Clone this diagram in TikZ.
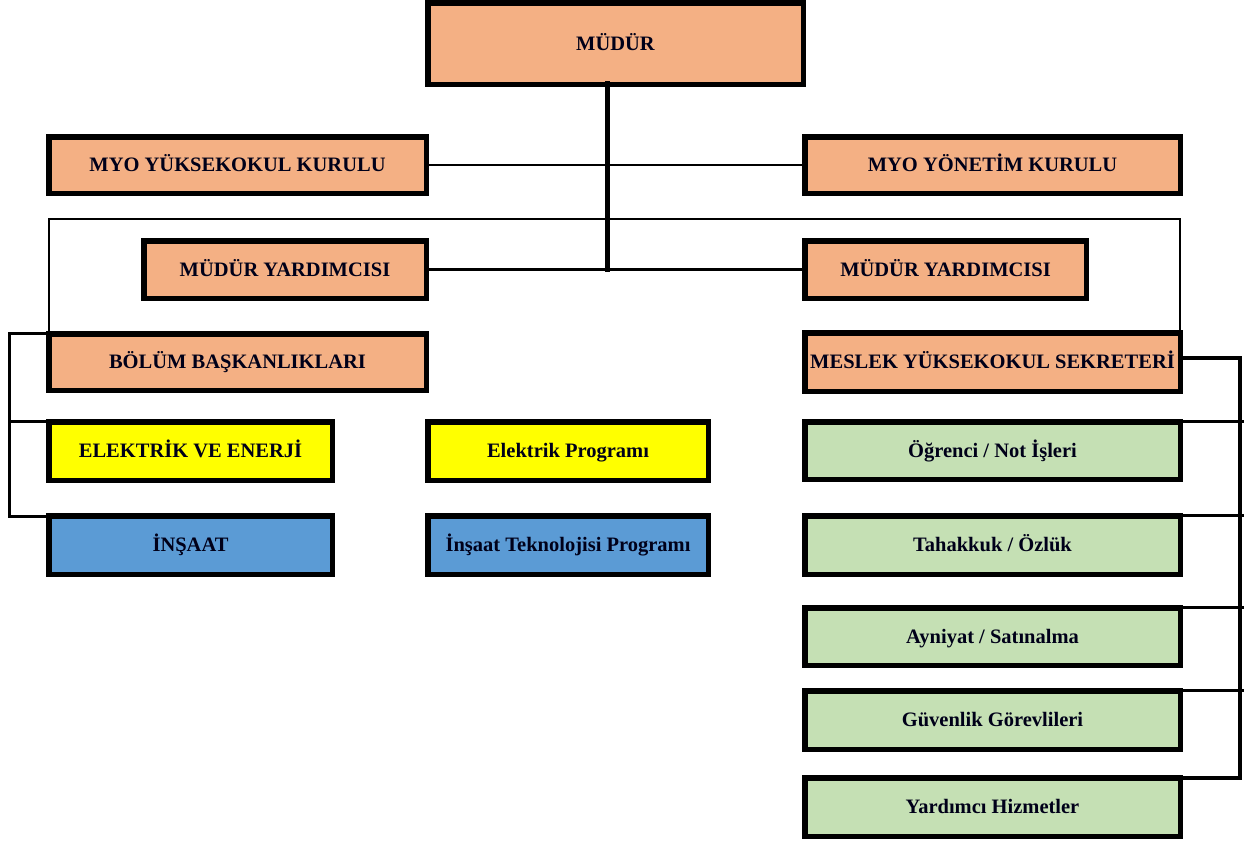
\documentclass[tikz,border=0pt]{standalone}
\usepackage{fontspec}
\setmainfont{Liberation Serif}
\definecolor{salmon}{HTML}{F4B084}
\definecolor{yel}{HTML}{FFFF00}
\definecolor{blu}{HTML}{5B9BD5}
\definecolor{grn}{HTML}{C5E0B4}
\begin{document}
\begin{tikzpicture}[x=1pt,y=-1pt,
  box/.style={draw=black, line width=5.5pt, inner sep=0pt, align=center,
    text height=13.5pt, text depth=0pt,
    font=\fontsize{20.5}{24}\selectfont\bfseries, text=black!90!blue},
  thin/.style={line width=2.2pt},
  mid/.style={line width=3pt},
  thick/.style={line width=4.5pt}]
\useasboundingbox (0,0) rectangle (1249,841);
% boxes (center, size = outer - line width)
\node[box, fill=salmon, minimum width=375.5pt, minimum height=81.5pt] (mudur) at (615.5,43.5) {MÜDÜR};
\node[box, fill=salmon, minimum width=377.5pt, minimum height=56.5pt] (ykk) at (237.5,165) {MYO YÜKSEKOKUL KURULU};
\node[box, fill=salmon, minimum width=375.5pt, minimum height=56.5pt] (ymk) at (992.5,165) {MYO YÖNETİM KURULU};
\node[box, fill=salmon, minimum width=282.5pt, minimum height=57.5pt] (my1) at (285,269.5) {MÜDÜR YARDIMCISI};
\node[box, fill=salmon, minimum width=281.5pt, minimum height=57.5pt] (my2) at (945.5,269.5) {MÜDÜR YARDIMCISI};
\node[box, fill=salmon, minimum width=377.5pt, minimum height=56.5pt] (bolum) at (237.5,362) {BÖLÜM BAŞKANLIKLARI};
\node[box, fill=salmon, minimum width=375.5pt, minimum height=58.5pt] (mys) at (992.5,362) {MESLEK YÜKSEKOKUL SEKRETERİ};
\node[box, fill=yel, minimum width=283.5pt, minimum height=58.5pt] (elek) at (190.5,451) {ELEKTRİK VE ENERJİ};
\node[box, fill=yel, minimum width=280.5pt, minimum height=58.5pt] (elprog) at (568,451) {Elektrik Programı};
\node[box, fill=blu, minimum width=283.5pt, minimum height=58.5pt] (insaat) at (190.5,545) {İNŞAAT};
\node[box, fill=blu, minimum width=280.5pt, minimum height=58.5pt] (insprog) at (568,545) {İnşaat Teknolojisi Programı};
\node[box, fill=grn, minimum width=375.5pt, minimum height=57.5pt] (ogr) at (992.5,450.5) {Öğrenci / Not İşleri};
\node[box, fill=grn, minimum width=375.5pt, minimum height=58.5pt] (tah) at (992.5,545) {Tahakkuk / Özlük};
\node[box, fill=grn, minimum width=375.5pt, minimum height=57.5pt] (ayn) at (992.5,636.5) {Ayniyat / Satınalma};
\node[box, fill=grn, minimum width=375.5pt, minimum height=58.5pt] (guv) at (992.5,720) {Güvenlik Görevlileri};
\node[box, fill=grn, minimum width=375.5pt, minimum height=58.5pt] (yrd) at (992.5,807) {Yardımcı Hizmetler};
% connector helper coordinates
\coordinate (mv) at (607,272);
\coordinate (L1) at (49,219);
\coordinate (R1) at (1180,219);
\coordinate (LB) at (9,0);
\coordinate (RB) at (1240,0);
\coordinate (RE) at (1244,0);
% connectors
\draw[thin] (ykk.east) -- (ymk.west);
\draw[thin] (my1.east) -- (my2.west);
\draw[thin] (bolum.north -| L1) -- (L1) -- (R1) -- (mys.north -| R1);
\draw[line width=5pt] ([yshift=6pt]mudur.south -| mv) -- (mv);
% left bracket
\draw[mid] ([yshift=-2.5pt]bolum.north west) -- ([yshift=-2.5pt]bolum.north west -| LB)
  -- ([yshift=-3pt]insaat.north west -| LB) -- ([yshift=-3pt]insaat.north west);
\draw[mid] ([yshift=-2.5pt]elek.north west -| LB) -- ([yshift=-2.5pt]elek.north west);
% right bracket
\draw[thick] ([yshift=4pt]mys.east) -- ([yshift=4pt]mys.east -| RB)
  -- ([yshift=-3pt]yrd.north east -| RB) -- ([yshift=-3pt]yrd.north east);
\draw[mid] ([yshift=-2pt]ogr.north east) -- ([yshift=-2pt]ogr.north east -| RE);
\draw[mid] ([yshift=-2pt]tah.north east) -- ([yshift=-2pt]tah.north east -| RE);
\draw[mid] ([yshift=-2pt]ayn.north east) -- ([yshift=-2pt]ayn.north east -| RE);
\draw[mid] ([yshift=-2pt]guv.north east) -- ([yshift=-2pt]guv.north east -| RE);
\end{tikzpicture}
\end{document}
